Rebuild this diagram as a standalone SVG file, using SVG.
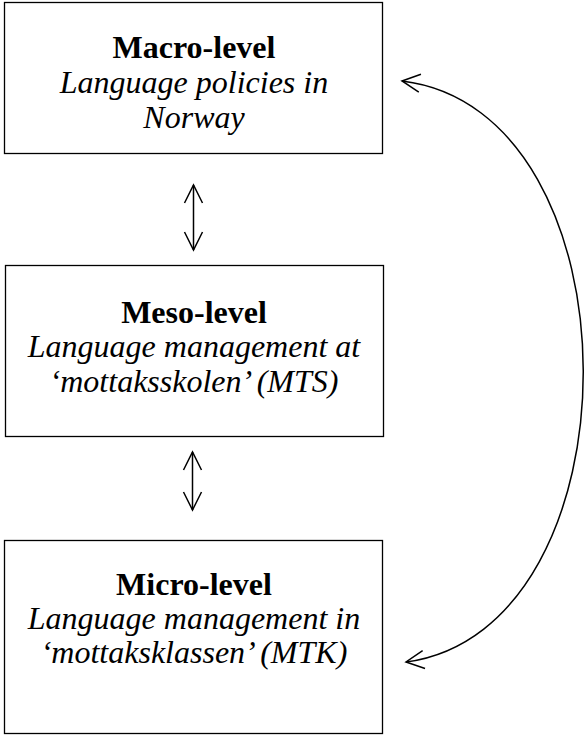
<svg xmlns="http://www.w3.org/2000/svg" width="585" height="735" viewBox="0 0 585 735">
<style>
.box{fill:#fff;stroke:#000;stroke-width:1.3}
.t{font-family:"Liberation Serif","Times New Roman",serif;font-size:32px;text-anchor:middle;fill:#000}
.b{font-weight:bold}
.i{font-style:italic}
.c{fill:none;stroke:#000;stroke-width:1.5}
</style>
<defs>
<marker id="ah" markerUnits="userSpaceOnUse" markerWidth="24" markerHeight="24" viewBox="-20 -12 24 24" refX="0" refY="0" orient="auto-start-reverse">
<path d="M -18 -9 L 0 0 L -18 9" fill="none" stroke="#000" stroke-width="1.5"/>
</marker>
</defs>
<g id="macro">
<rect class="box" x="4.5" y="2.5" width="378" height="151"/>
<text class="t b" x="194" y="58">Macro-level</text>
<text class="t i" x="194" y="93">Language policies in</text>
<text class="t i" x="194" y="128">Norway</text>
</g>
<g id="meso">
<rect class="box" x="5.5" y="265.5" width="378" height="171"/>
<text class="t b" x="194" y="323">Meso-level</text>
<text class="t i" x="194" y="357">Language management at</text>
<text class="t i" x="194" y="392">‘mottaksskolen’ (MTS)</text>
</g>
<g id="micro">
<rect class="box" x="4.5" y="540.5" width="378" height="193"/>
<text class="t b" x="194" y="595">Micro-level</text>
<text class="t i" x="194" y="629">Language management in</text>
<text class="t i" x="194" y="663">‘mottaksklassen’ (MTK)</text>
</g>
<g id="connectors">
<line class="c" x1="193.5" y1="185" x2="193.5" y2="250" marker-start="url(#ah)" marker-end="url(#ah)"/>
<line class="c" x1="192.5" y1="452" x2="192.5" y2="510" marker-start="url(#ah)" marker-end="url(#ah)"/>
<path class="c" d="M 406 662 C 643 630, 643 110, 402 81" marker-start="url(#ah)" marker-end="url(#ah)"/>
</g>
</svg>
